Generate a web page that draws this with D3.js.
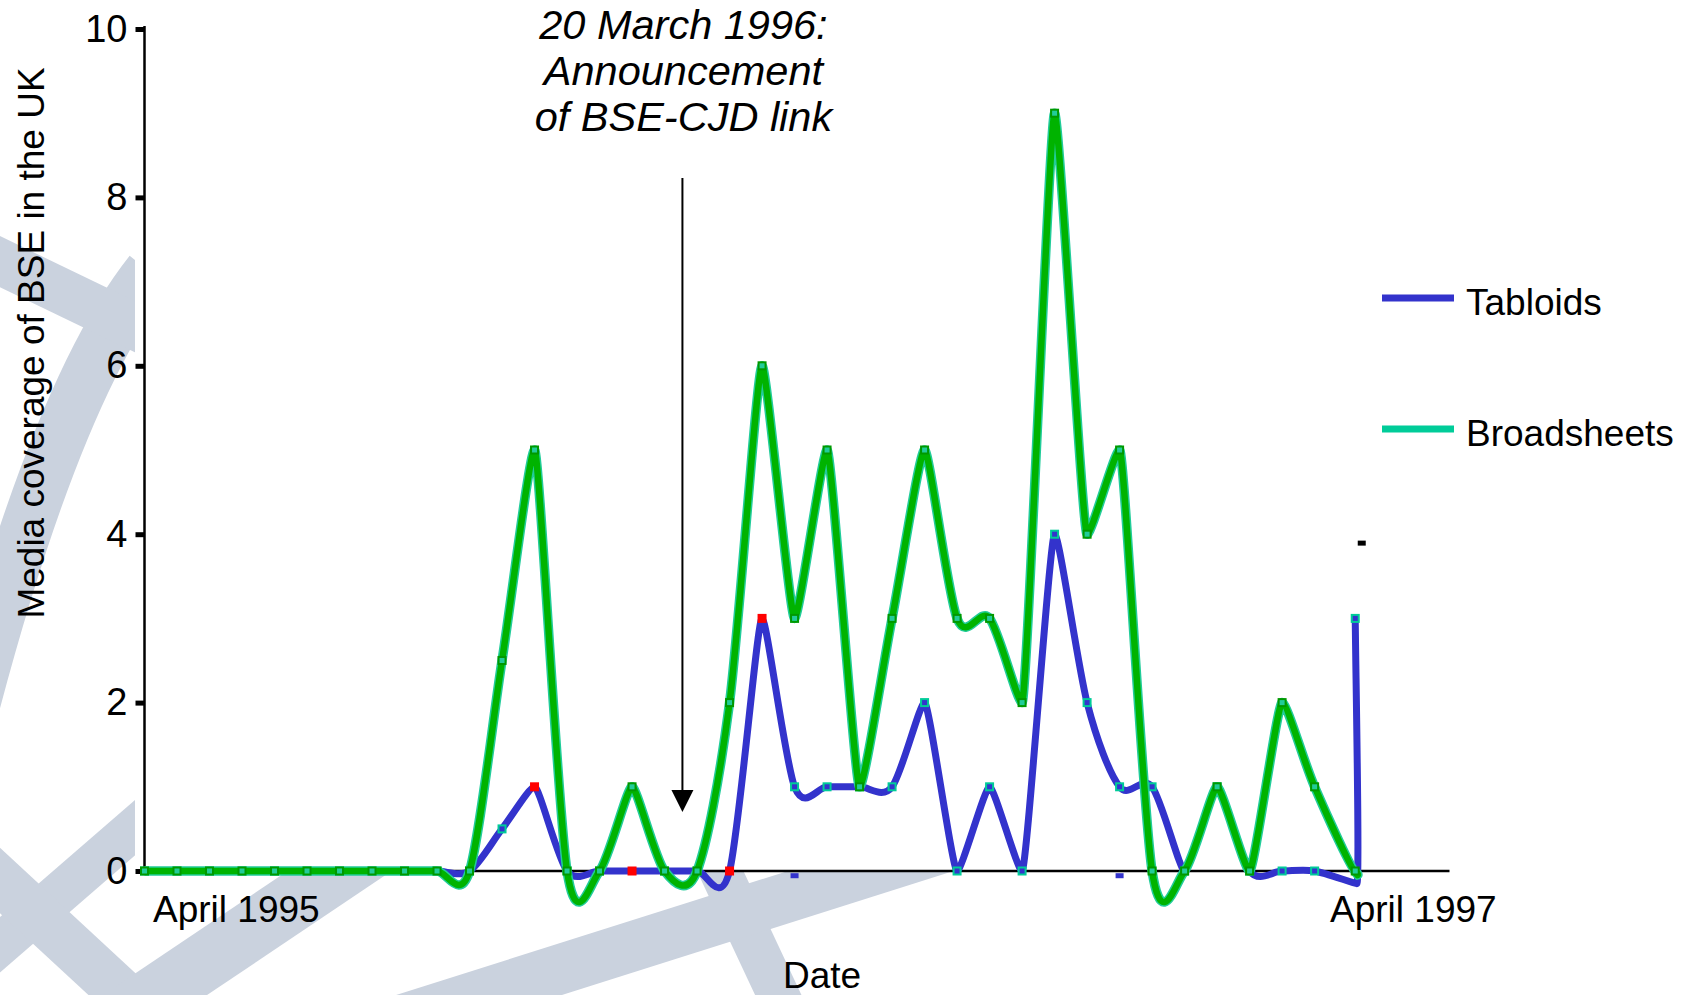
<!DOCTYPE html>
<html><head><meta charset="utf-8">
<script src="https://cdn.jsdelivr.net/npm/d3@7"></script>
<style>
body{margin:0;background:#fff;}
svg{display:block;}
text{font-family:"Liberation Sans",Arial,Helvetica,sans-serif;fill:#000;}
</style>
</head><body>
<svg id="c" width="1693" height="995"></svg>
<script>
// ---- data ----
const period = [0,1,2,3,4,5,6,7,8,9,10,11,12,13,14,15,16,17,18,19,20,21,22,23,24,25,26,27,28,29,30,31,32,33,34,35,36,37.3,37.25];
const tabloids =    [0,0,0,0,0,0,0,0,0,0,0,0.5,1,0,0,0,0,0,0,3,1,1,1,1,2,0,1,0,4,2,1,1,0,1,0,0,0,-0.15,3];
const broadsheets = [0,0,0,0,0,0,0,0,0,0,0,2.5,5,0,0,1,0,0,2,6,3,5,1,3,5,3,3,2,9,4,5,0,0,1,0,2,1,-0.05,0];
const unmarkedIdx = [37];               // hidden turning point of the last segment
const redMarkerIdx = [12,15,18,19];     // tabloid markers drawn red
const seriesNames = ["Tabloids","Broadsheets"];
const seriesColors = ["#3333cc","#00cc99"];
const yTicks = [0,2,4,6,8,10];
const xEndLabels = ["April 1995","April 1997"];
const annotationLines = ["20 March 1996:","Announcement","of BSE-CJD link"];
const annotationPeriod = 16.55;
const strayMarks = [
  {p:20, v:-0.05, c:"#3333cc"},
  {p:30, v:-0.05, c:"#3333cc"},
  {p:37.45, v:3.9, c:"#000000"}
];

// ---- scales ----
const svg = d3.select("#c");
const x = d3.scaleLinear().domain([0,40.15]).range([144.5,1449.5]);
const y = d3.scaleLinear().domain([0,10]).range([871,29]);

// ---- watermark (decoration) ----
const wm = svg.append("g").attr("stroke","#cad2de").attr("fill","none").attr("stroke-linecap","butt");
wm.append("path").attr("d","M-30,720 Q56,390 150,272").attr("stroke-width",52);
const bands = [
  [[-20,252],[150,334],46],
  [[-20,962],[160,806],42],
  [[-20,862],[140,1010],48],
  [[100,1032],[420,817],58],
  [[700,828],[790,1020],42],
  [[400,1020],[950,846],50]
];
bands.forEach(b=>{
  wm.append("line").attr("x1",b[0][0]).attr("y1",b[0][1]).attr("x2",b[1][0]).attr("y2",b[1][1]).attr("stroke-width",b[2]);
});
svg.append("rect").attr("x",135).attr("y",0).attr("width",1693-135).attr("height",872).attr("fill","#fff");

// ---- axes ----
const yAxis = d3.axisLeft(y).tickValues(yTicks).tickSize(9).tickPadding(8).tickFormat(d3.format("d"));
const gy = svg.append("g").attr("transform",`translate(${x(0)},0)`).call(yAxis);
gy.select(".domain").remove();
gy.selectAll(".tick line").attr("stroke","#000").attr("stroke-width",5);
gy.selectAll(".tick text").attr("font-size",38).attr("font-family","Liberation Sans, Arial, sans-serif").attr("fill","#000");
svg.append("line").attr("x1",x(0)).attr("x2",x(0)).attr("y1",y(10)-3).attr("y2",y(0)+1)
  .attr("stroke","#000").attr("stroke-width",2.5);
svg.append("line").attr("x1",x(0)).attr("x2",x.range()[1]).attr("y1",y(0)).attr("y2",y(0))
  .attr("stroke","#000").attr("stroke-width",2.5);

// ---- spreadsheet-style smoothing curve (Catmull-Rom, sharp at strict peaks/troughs) ----
const K = 0.9;
function smoothCurve(context){
  let pts = [];
  return {
    areaStart(){}, areaEnd(){},
    lineStart(){ pts = []; },
    point(px,py){ pts.push([+px,+py]); },
    lineEnd(){
      const n = pts.length; if(!n) return;
      context.moveTo(pts[0][0],pts[0][1]);
      if(n===1) return;
      const m = pts.map((p,i)=>{
        const a = pts[Math.max(0,i-1)], b = pts[Math.min(n-1,i+1)];
        let mx = (b[0]-a[0])/2, my = (b[1]-a[1])/2;
        if(i>0 && i<n-1){
          const pv = pts[i-1][1], nv = pts[i+1][1], c = p[1];
          if((c<pv && c<nv) || (c>pv && c>nv)){ my = 0; mx *= 0.5; }
        }
        return [mx*K, my*K];
      });
      for(let i=0;i<n-1;i++){
        const p = pts[i], q = pts[i+1];
        context.bezierCurveTo(p[0]+m[i][0]/3, p[1]+m[i][1]/3, q[0]-m[i+1][0]/3, q[1]-m[i+1][1]/3, q[0], q[1]);
      }
    }
  };
}

// ---- series ----
const pts = (vals)=>period.map((p,i)=>({p, v:vals[i], i}));
const line = d3.line().x(d=>x(d.p)).y(d=>y(d.v)).curve(smoothCurve);
const tPts = pts(tabloids), bPts = pts(broadsheets);

svg.append("path").attr("d",line(tPts)).attr("fill","none").attr("stroke",seriesColors[0])
  .attr("stroke-width",7).attr("stroke-linejoin","round");
svg.append("g").selectAll("rect").data(tPts.filter(d=>!unmarkedIdx.includes(d.i))).join("rect")
  .attr("x",d=>x(d.p)-3.5).attr("y",d=>y(d.v)-3.5).attr("width",7).attr("height",7)
  .attr("fill",d=>redMarkerIdx.includes(d.i)?"#ff0000":"#3333cc")
  .attr("stroke",d=>redMarkerIdx.includes(d.i)?"#ff0000":"#00cc99").attr("stroke-width",2);

svg.append("path").attr("d",line(bPts)).attr("fill","none").attr("stroke","#22cc99")
  .attr("stroke-width",9.5).attr("stroke-linejoin","round");
svg.append("path").attr("d",line(bPts)).attr("fill","none").attr("stroke","#00b300")
  .attr("stroke-width",6.5).attr("stroke-linejoin","round");
svg.append("g").selectAll("rect").data(bPts.filter(d=>!unmarkedIdx.includes(d.i))).join("rect")
  .attr("x",d=>x(d.p)-3.5).attr("y",d=>y(d.v)-3.5).attr("width",7).attr("height",7)
  .attr("fill","#22cc99").attr("stroke","#009900").attr("stroke-width",2);

svg.append("g").selectAll("rect").data(strayMarks).join("rect")
  .attr("x",d=>x(d.p)-4).attr("y",d=>y(d.v)-2).attr("width",8).attr("height",5).attr("fill",d=>d.c);

// ---- annotation ----
const ax = x(annotationPeriod);
svg.append("line").attr("x1",ax).attr("x2",ax).attr("y1",178).attr("y2",792)
  .attr("stroke","#000").attr("stroke-width",2);
svg.append("path").attr("d",`M${ax-11},790L${ax+11},790L${ax},812Z`).attr("fill","#000");
svg.append("g").selectAll("text").data(annotationLines).join("text")
  .attr("x",ax+1).attr("y",(d,i)=>39+i*46).attr("text-anchor","middle")
  .attr("font-size",41.5).attr("font-style","italic").text(d=>d);

// ---- axis labels ----
svg.append("text").attr("x",153).attr("y",922).attr("font-size",37).text(xEndLabels[0]);
svg.append("text").attr("x",1330).attr("y",922).attr("font-size",37).text(xEndLabels[1]);
svg.append("text").attr("x",822).attr("y",988).attr("text-anchor","middle").attr("font-size",37).text("Date");
svg.append("text").attr("transform","translate(44,343) rotate(-90)").attr("text-anchor","middle")
  .attr("font-size",37).text("Media coverage of BSE in the UK");

// ---- legend ----
const lg = svg.append("g");
seriesNames.forEach((n,i)=>{
  const ly = [298,429][i];
  lg.append("rect").attr("x",1382).attr("y",ly-3.5).attr("width",72).attr("height",7).attr("fill",seriesColors[i]);
  lg.append("text").attr("x",1466).attr("y",ly+17).attr("font-size",37).text(n);
});
</script>
</body></html>
